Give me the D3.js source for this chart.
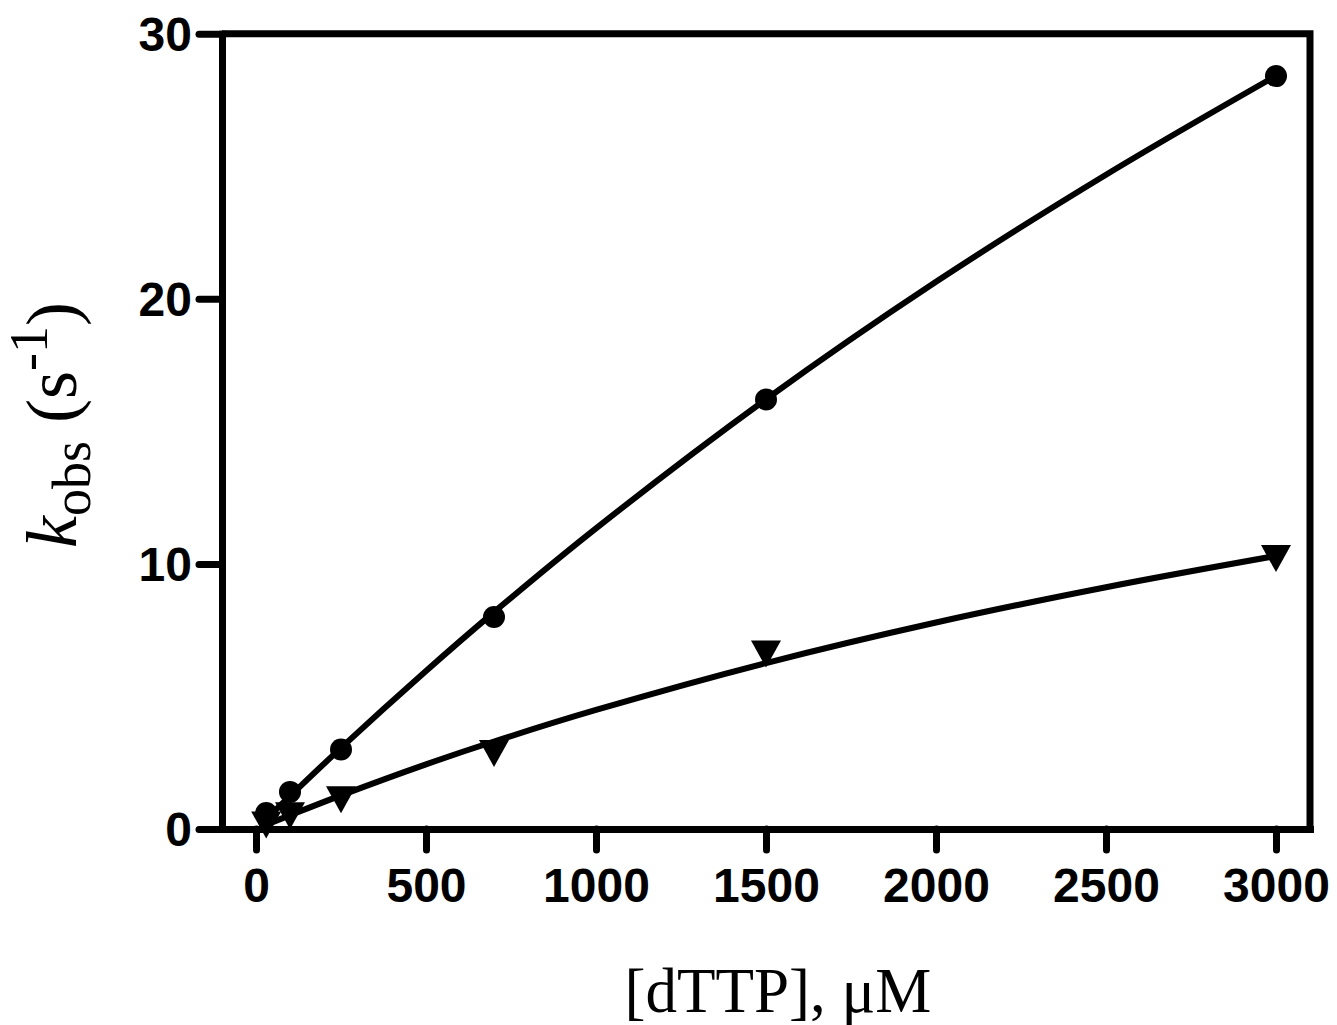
<!DOCTYPE html>
<html>
<head>
<meta charset="utf-8">
<script src="https://cdn.jsdelivr.net/npm/d3@7"></script>
<style>
  html, body { margin: 0; padding: 0; background: #fff; }
  svg { display: block; }
</style>
</head>
<body>
<svg id="chart" width="1337" height="1025"></svg>
<script>
// ---- data ----
const circleX = [30, 100, 250, 700, 1500, 3000];
const circleY = [0.6, 1.4, 3.0, 8.0, 16.2, 28.4];
const triangleX = [30, 100, 250, 700, 1500, 3000];
const triangleY = [0.15, 0.5, 1.1, 2.85, 6.6, 10.2];
const fitX = [30, 100, 250, 500, 700, 1000, 1500, 2000, 2500, 3000];
const circleFitY = [0.38, 1.24, 3.06, 5.96, 8.18, 11.34, 16.21, 20.64, 24.68, 28.41];
const triangleFitY = [0.16, 0.52, 1.27, 2.44, 3.30, 4.49, 6.26, 7.79, 9.12, 10.30];
const xTicks = [0, 500, 1000, 1500, 2000, 2500, 3000];
const yTicks = [0, 10, 20, 30];

(function () {
  // ---- layout ----
  const pL = 222, pR = 1310, pT = 33.7, pB = 829;
  const svg = d3.select("#chart");
  const x = d3.scaleLinear().domain([-100, 3100]).range([pL, pR]);
  const y = d3.scaleLinear().domain([0, 30]).range([pB, pT]);

  const AX_W = 7;

  // frame (top and right)
  svg.append("path")
    .attr("d", `M${pL},${pT}H${pR}V${pB}`)
    .attr("fill", "none").attr("stroke", "#000")
    .attr("stroke-width", AX_W).attr("stroke-linejoin", "miter");

  // y axis
  const gy = svg.append("g").attr("transform", `translate(${pL},0)`)
    .call(d3.axisLeft(y).tickValues(yTicks).tickSize(23).tickSizeOuter(0).tickPadding(7).tickFormat(d3.format("d")));
  // x axis
  const gx = svg.append("g").attr("transform", `translate(0,${pB})`)
    .call(d3.axisBottom(x).tickValues(xTicks).tickSize(21).tickSizeOuter(0).tickPadding(7).tickFormat(d3.format("d")));

  [gx, gy].forEach(g => {
    g.select(".domain").attr("stroke", "#000").attr("stroke-width", AX_W).attr("stroke-linecap", "square");
    g.selectAll(".tick line").attr("stroke", "#000").attr("stroke-width", AX_W).attr("stroke-linecap", "round");
    g.selectAll(".tick text")
      .attr("fill", "#000")
      .style("font-family", "'Liberation Sans', Arial, Helvetica, sans-serif")
      .style("font-weight", "bold")
      .style("font-size", "48px");
  });
  gx.selectAll(".tick text").attr("y", 73).attr("dy", "0");
  gy.selectAll(".tick text").attr("dy", "0.35em");

  // fitted curves
  const line = d3.line().x(d => x(d[0])).y(d => y(d[1])).curve(d3.curveCatmullRom.alpha(0.5));
  svg.append("path")
    .datum(fitX.map((v, i) => [v, circleFitY[i]]))
    .attr("d", line).attr("fill", "none").attr("stroke", "#000").attr("stroke-width", 6);
  svg.append("path")
    .datum(fitX.map((v, i) => [v, triangleFitY[i]]))
    .attr("d", line).attr("fill", "none").attr("stroke", "#000").attr("stroke-width", 6);

  // circle markers
  svg.append("g").selectAll("circle")
    .data(circleX.map((v, i) => [v, circleY[i]]))
    .join("circle")
    .attr("cx", d => x(d[0])).attr("cy", d => y(d[1])).attr("r", 11).attr("fill", "#000");

  // down-triangle markers
  const tw = 15, th = 13.5;
  svg.append("g").selectAll("path")
    .data(triangleX.map((v, i) => [v, triangleY[i]]))
    .join("path")
    .attr("d", `M${-tw},${-th}L${tw},${-th}L0,${th}Z`)
    .attr("transform", d => `translate(${x(d[0])},${y(d[1])})`)
    .attr("fill", "#000");

  // x axis title
  svg.append("text")
    .attr("x", 778).attr("y", 1012)
    .attr("text-anchor", "middle")
    .style("font-family", "'Liberation Serif', 'Times New Roman', serif")
    .style("font-size", "63px")
    .attr("fill", "#000")
    .text("[dTTP], \u03BCM");

  // y axis title
  const yt = svg.append("text")
    .attr("transform", "translate(76,425) rotate(-90)")
    .attr("text-anchor", "middle")
    .style("font-family", "'Liberation Serif', 'Times New Roman', serif")
    .style("font-size", "72px")
    .attr("fill", "#000");
  yt.append("tspan").style("font-style", "italic").text("k");
  yt.append("tspan").attr("dy", 14).style("font-size", "54px").text("obs");
  yt.append("tspan").attr("dy", -14).text(" (s");
  yt.append("tspan").attr("dy", -29).style("font-size", "54px").text("-1");
  yt.append("tspan").attr("dy", 29).text(")");
})();
</script>
</body>
</html>
